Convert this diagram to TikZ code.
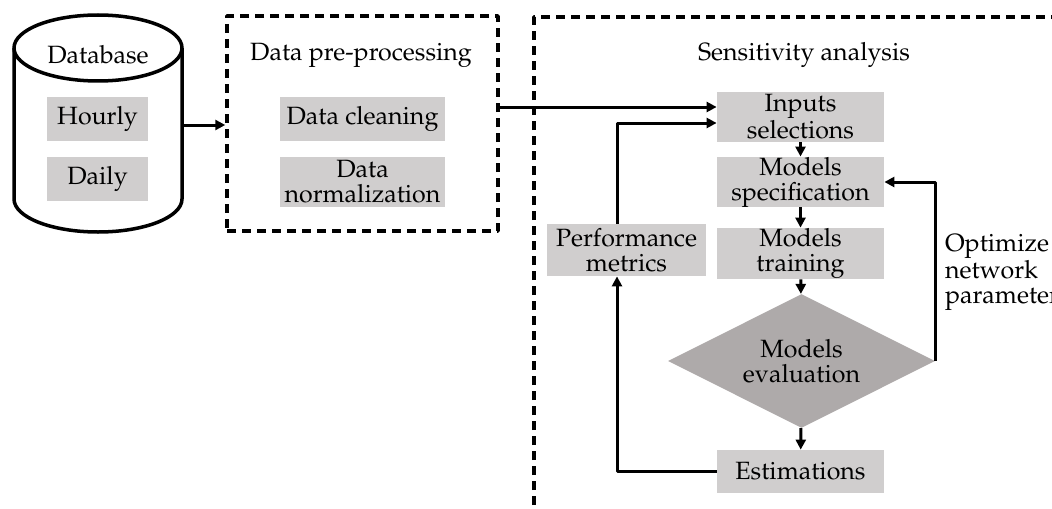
\documentclass[tikz,border=0pt]{standalone}
\usepackage[T1]{fontenc}
\usepackage{mathpazo}
\usetikzlibrary{arrows.meta,shapes.geometric}
\definecolor{boxgray}{RGB}{208,206,206}
\definecolor{evalgray}{RGB}{174,170,170}

\begin{document}
\begin{tikzpicture}[x=0.5pt,y=-0.5pt,
    font=\fontsize{12.5}{12.5}\selectfont,
    box/.style={fill=boxgray, inner sep=0pt, align=center},
    dashbox/.style={draw, line width=1.75pt, dash pattern=on 4.5pt off 3pt, inner sep=0pt},
    conn/.style={line width=1.5pt, -{Triangle[length=5pt,width=5pt]}},
    line join=round]
  \useasboundingbox (0,0) rectangle (1052,508);

  % database
  \draw[line width=1.75pt, fill=white]
    (14,48) -- (14,199) arc[start angle=180, end angle=360, x radius=42pt, y radius=16.5pt] -- (182,48);
  \draw[line width=1.75pt] (98,48) ellipse [x radius=42pt, y radius=16.5pt];
  \node (db) at (98,55) {Database};
  \node[box, minimum width=50.5pt, minimum height=22pt] (hourly) at (97.5,119) {Hourly};
  \node[box, minimum width=50.5pt, minimum height=22pt] (daily) at (97.5,179) {Daily};
  \coordinate (dbout) at (182,125);

  % pre-processing
  \node[dashbox, minimum width=135.5pt, minimum height=107.5pt] (prep) at (362.5,123.5) {};
  \node (preptitle) at (361,55) {Data pre-processing};
  \node[box, minimum width=82.5pt, minimum height=22pt] (clean) at (362.5,119) {Data cleaning};
  \node[box, minimum width=82.5pt, minimum height=25pt] (norm) at (362.5,182) {Data\\normalization};
  \draw[conn] (dbout) -- (dbout -| prep.west);

  % sensitivity analysis
  \draw[line width=1.75pt, dash pattern=on 4.5pt off 3pt] (534,520) -- (534,17) -- (1060,17);
  \node (senstitle) at (804,55) {Sensitivity analysis};
  \node[box, minimum width=83.5pt, minimum height=25pt] (inputs) at (800.5,117) {Inputs\\selections};
  \node[box, minimum width=83.5pt, minimum height=25pt] (spec) at (800.5,182) {Models\\specification};
  \node[box, minimum width=83.5pt, minimum height=25.5pt] (train) at (800.5,253.5) {Models\\training};
  \node[diamond, fill=evalgray, inner sep=0pt, aspect=2, minimum width=133.5pt, minimum height=67pt,
        align=center] (eval) at (801.5,361) {Models\\evaluation};
  \node[box, minimum width=83.5pt, minimum height=21.5pt] (est) at (800.5,471.5) {Estimations};
  \node[box, minimum width=79.5pt, minimum height=26pt] (perf) at (626.5,250) {Performance\\metrics};
  \node[anchor=west, align=left] (optim) at (938,272) {Optimize\\network\\parameters};

  \coordinate (prepout) at (498,107);
  \draw[line width=1.5pt] (prep.east |- prepout) -- (prepout);
  \draw[conn] (prepout) -- (prepout -| inputs.west);
  \draw[conn] (inputs) -- (spec);
  \draw[conn] (spec) -- (train);
  \draw[conn] (train) -- (eval);
  \draw[conn] (eval) -- (est);
  \draw[conn] (eval.east) |- (spec.east);
  \draw[conn] (est.west) -| ([xshift=-4.75pt]perf.south);
  \draw[conn] ([xshift=-4.75pt]perf.north) |- ([yshift=-3pt]inputs.west);
\end{tikzpicture}
\end{document}
